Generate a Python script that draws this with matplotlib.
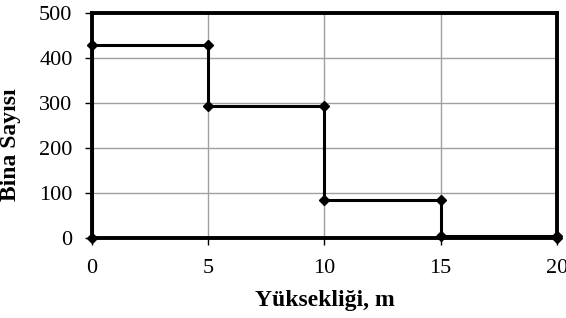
import numpy as np
import matplotlib
matplotlib.use("Agg")
import matplotlib.pyplot as plt

# building height bins (m) and number of buildings in each bin
edges = [0, 5, 10, 15, 20]
counts = [428, 293, 84, 4]

xticks = [0, 5, 10, 15, 20]
yticks = [0, 100, 200, 300, 400, 500]

plt.rcParams["font.family"] = ["Liberation Serif", "DejaVu Serif"]

# step outline: up from zero, across each bin, back down at the end
xs = np.concatenate(([edges[0]], np.repeat(edges, 2)[1:-1], [edges[-1]]))
ys = np.concatenate(([0], np.repeat(counts, 2), [0]))

fig = plt.figure(figsize=(5.66, 3.18), dpi=100)
ax = fig.add_axes([0.1625, 0.2516, 0.8215, 0.7074])

ax.plot(xs, ys, color="black", lw=2.2, marker="D", ms=5, clip_on=False, zorder=5)

ax.set_xlim(0, 20)
ax.set_ylim(0, 500)
ax.set_xticks(xticks)
ax.set_yticks(yticks)
ax.grid(True, color="#a0a0a0", lw=1.0)
ax.set_axisbelow(True)

for s in ax.spines.values():
    s.set_linewidth(2.8)
    s.set_color("black")

ax.tick_params(axis="both", direction="out", length=5, width=1, labelsize=16)
ax.tick_params(axis="x", pad=10)
ax.tick_params(axis="y", pad=9)
ax.set_xlabel("Yüksekliği, m", fontsize=17, fontweight="bold", labelpad=9)
ax.set_ylabel("Bina Sayısı", fontsize=17, fontweight="bold")
ax.yaxis.set_label_coords(-0.153, 0.413)

fig.savefig("out.png", dpi=100)
